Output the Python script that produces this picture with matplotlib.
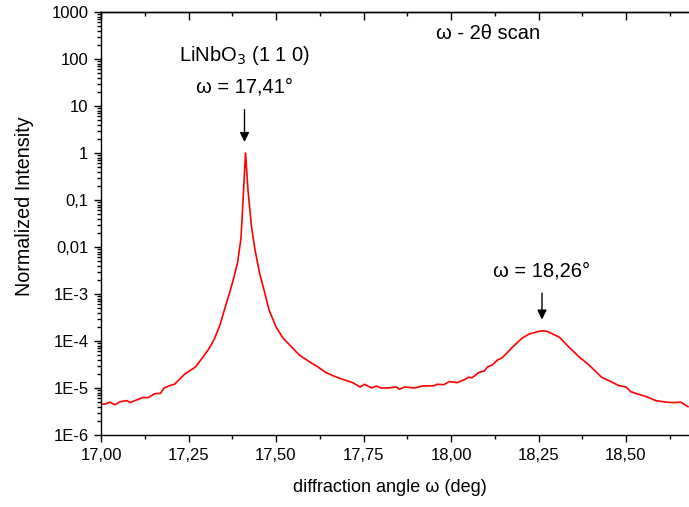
import matplotlib
matplotlib.use('Agg')
import matplotlib.pyplot as plt
import numpy as np
from matplotlib.ticker import FixedLocator, FixedFormatter, MultipleLocator, FuncFormatter, LogLocator, NullFormatter

plt.rcParams['font.family'] = ['Liberation Sans', 'DejaVu Sans']

# omega-2theta scan, normalized intensity
angle = [17.000, 17.013, 17.026, 17.040, 17.054, 17.074, 17.083, 17.100, 17.120, 17.134,
         17.154, 17.170, 17.180, 17.200, 17.210, 17.240, 17.270, 17.290, 17.310, 17.325,
         17.340, 17.354, 17.368, 17.380, 17.390, 17.400, 17.413, 17.420, 17.430, 17.440,
         17.453, 17.468, 17.480, 17.500, 17.520, 17.545, 17.567, 17.596, 17.620, 17.644,
         17.673, 17.696, 17.720, 17.740, 17.753, 17.773, 17.787, 17.800, 17.820, 17.844,
         17.853, 17.867, 17.895, 17.918, 17.952, 17.960, 17.980, 17.995, 18.018, 18.038,
         18.050, 18.060, 18.080, 18.095, 18.104, 18.118, 18.132, 18.146, 18.160, 18.175,
         18.190, 18.203, 18.223, 18.243, 18.260, 18.275, 18.310, 18.337, 18.366, 18.394,
         18.430, 18.460, 18.480, 18.500, 18.514, 18.537, 18.557, 18.585, 18.614, 18.637,
         18.657, 18.677]
intensity = [4.5e-6, 4.6e-6, 5.0e-6, 4.4e-6, 5.1e-6, 5.4e-6, 4.9e-6, 5.5e-6, 6.3e-6, 6.2e-6,
             7.6e-6, 7.7e-6, 1.0e-5, 1.15e-5, 1.2e-5, 2.0e-5, 2.8e-5, 4.4e-5, 7.1e-5, 1.15e-4,
             2.2e-4, 5.0e-4, 1.1e-3, 2.3e-3, 4.6e-3, 1.55e-2, 1.0, 0.16, 0.027, 8.7e-3,
             2.8e-3, 1.05e-3, 4.6e-4, 2.0e-4, 1.15e-4, 7.4e-5, 5.0e-5, 3.6e-5, 2.8e-5, 2.1e-5,
             1.7e-5, 1.48e-5, 1.29e-5, 1.05e-5, 1.2e-5, 1.0e-5, 1.1e-5, 1.0e-5, 1.0e-5, 1.05e-5,
             9.4e-6, 1.05e-5, 1.0e-5, 1.1e-5, 1.12e-5, 1.2e-5, 1.18e-5, 1.37e-5, 1.3e-5, 1.5e-5,
             1.7e-5, 1.65e-5, 2.15e-5, 2.3e-5, 2.8e-5, 3.1e-5, 3.9e-5, 4.4e-5, 5.6e-5, 7.3e-5,
             9.3e-5, 1.15e-4, 1.4e-4, 1.55e-4, 1.65e-4, 1.6e-4, 1.2e-4, 7.4e-5, 4.6e-5, 3.1e-5,
             1.7e-5, 1.33e-5, 1.12e-5, 1.05e-5, 8.3e-6, 7.3e-6, 6.6e-6, 5.4e-6, 5.0e-6, 4.9e-6,
             5.0e-6, 4.0e-6]

peak_main = 17.41
peak_second = 18.26

ytick_vals = [1e-6, 1e-5, 1e-4, 1e-3, 1e-2, 1e-1, 1, 10, 100, 1000]
ytick_labels = ['1E-6', '1E-5', '1E-4', '1E-3', '0,01', '0,1', '1', '10', '100', '1000']


def comma(v, pos=None):
    return f'{v:.2f}'.replace('.', ',')


fig = plt.figure(figsize=(6.89, 5.07), dpi=100)
ax = fig.add_axes([101 / 689, 72 / 507, 588 / 689, 423 / 507])

ax.plot(angle, intensity, color='#ff0000', lw=1.2)

ax.set_yscale('log')
ax.set_xlim(17.0, 18.68)
ax.set_ylim(1e-6, 1000)

ax.yaxis.set_major_locator(FixedLocator(ytick_vals))
ax.yaxis.set_major_formatter(FixedFormatter(ytick_labels))
ax.yaxis.set_minor_locator(LogLocator(base=10, subs=np.arange(2, 10), numticks=20))
ax.yaxis.set_minor_formatter(NullFormatter())

ax.xaxis.set_major_locator(MultipleLocator(0.25))
ax.xaxis.set_minor_locator(MultipleLocator(0.125))
ax.xaxis.set_major_formatter(FuncFormatter(comma))

ax.tick_params(which='major', direction='out', length=5, width=1.0, labelsize=12, pad=4)
ax.tick_params(which='minor', direction='out', length=3, width=1.0)
ax.spines['right'].set_visible(False)
for s in ['left', 'bottom', 'top']:
    ax.spines[s].set_linewidth(1.0)

# inward ticks along the top edge
top = ax.secondary_xaxis('top')
top.xaxis.set_major_locator(MultipleLocator(0.25))
top.xaxis.set_minor_locator(MultipleLocator(0.125))
top.xaxis.set_major_formatter(NullFormatter())
top.tick_params(which='major', direction='in', length=6, width=1.0)
top.tick_params(which='minor', direction='in', length=3, width=1.0)
top.spines['top'].set_linewidth(1.0)

ax.set_xlabel('diffraction angle ω (deg)', fontsize=13)
ax.set_ylabel('Normalized Intensity', fontsize=14.2)
ax.xaxis.set_label_coords(0.4915, -0.104)
ax.yaxis.set_label_coords(-0.114, 0.541)

# peak annotations
ax.text(peak_main, 121, 'LiNbO$_3$ (1 1 0)', fontsize=14.5, ha='center', va='center')
ax.text(peak_main, 25, f'ω = {comma(peak_main)}°', fontsize=14.5, ha='center', va='center')
ax.annotate('', xy=(peak_main, 1.5), xytext=(peak_main, 9.6),
            arrowprops=dict(arrowstyle='-|>', color='black', lw=1.0, mutation_scale=14))

ax.text(peak_second, 3.1e-3, f'ω = {comma(peak_second)}°', fontsize=14.5, ha='center', va='center')
ax.annotate('', xy=(peak_second, 2.5e-4), xytext=(peak_second, 1.2e-3),
            arrowprops=dict(arrowstyle='-|>', color='black', lw=1.0, mutation_scale=14))

ax.text(18.106, 357, 'ω - 2θ scan', fontsize=14.5, ha='center', va='center')

fig.savefig('out.png', dpi=100)
